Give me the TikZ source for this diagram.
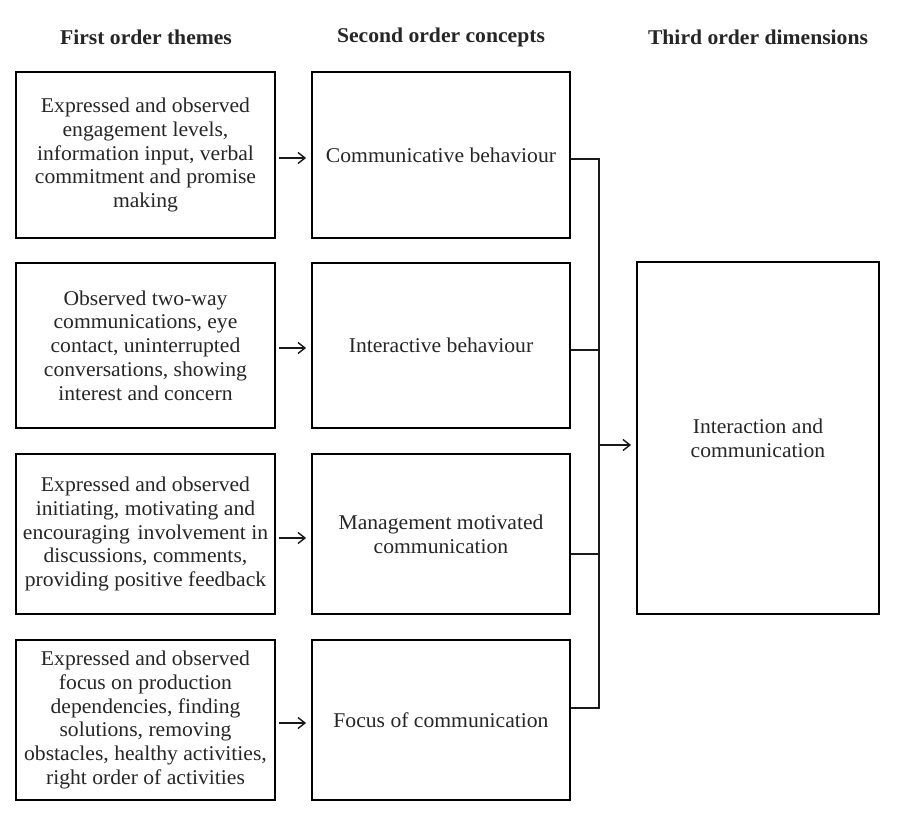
\documentclass[tikz,border=0pt]{standalone}
\usepackage{fontspec}
\setmainfont{Liberation Serif}[FakeStretch=1.03]
\usetikzlibrary{arrows.meta}
\tikzset{
  every node/.style={font=\fontsize{21}{23.8}\selectfont, text=black!85},
  box/.style={draw=black, line width=1.8pt, inner sep=0pt, align=center},
  colhead/.style={font=\fontsize{21}{23.8}\selectfont\bfseries},
  link/.style={line width=1.4pt, draw=black!90},
  arr/.style={link, -{Straight Barb[length=7pt,width=11pt]}},
}
\begin{document}
\begin{tikzpicture}[x=1pt,y=-1pt]
  \useasboundingbox[fill=white] (0,0) rectangle (914,816);

  % column headings
  \node[colhead] (h1) at (146,37) {First order themes};
  \node[colhead] (h2) at (441,37) {Second order concepts};
  \node[colhead] (h3) at (758,37) {Third order dimensions};

  % first order themes
  \node[box, minimum width=259, minimum height=166] (a1) at (145.5,155)
    {Expressed and observed\\engagement levels,\\information input, verbal\\commitment and promise\\making};
  \node[box, minimum width=259, minimum height=165] (a2) at (145.5,345.5)
    {Observed two-way\\communications, eye\\contact, uninterrupted\\conversations, showing\\interest and concern};
  \node[box, minimum width=259, minimum height=160] (a3) at (145.5,534)
    {Expressed and observed\\initiating, motivating and\\encouraging\hspace{2.5pt} involvement in\\discussions, comments,\\providing positive feedback};
  \node[box, minimum width=259, minimum height=160] (a4) at (145.5,720)
    {Expressed and observed\\focus on production\\dependencies, finding\\solutions, removing\\obstacles, healthy activities,\\right order of activities};

  % second order concepts
  \node[box, minimum width=258, minimum height=166] (b1) at (441,155) {Communicative behaviour};
  \node[box, minimum width=258, minimum height=165] (b2) at (441,345.5) {Interactive behaviour};
  \node[box, minimum width=258, minimum height=160] (b3) at (441,534) {Management motivated\\communication};
  \node[box, minimum width=258, minimum height=160] (b4) at (441,720) {Focus of communication};

  % third order dimension
  \node[box, minimum width=242, minimum height=352] (c1) at (758,438) {Interaction and\\communication};

  % theme -> concept arrows
  \foreach \i/\dy in {1/3,2/2.5,3/4,4/3} {
    \draw[arr, shorten <=3pt, shorten >=5pt]
      ([yshift=-\dy pt]a\i.east) -- ([yshift=-\dy pt]b\i.west);
  }

  % bracket joining the concepts
  \coordinate (jtop) at (599,159);
  \coordinate (jbot) at (599,708);
  \draw[link] ([yshift=-4pt]b1.east) -- ([yshift=-4pt]b1.east -| jtop) -- (jbot)
              -- ([yshift=12pt]b4.east -| jtop) -- ([yshift=12pt]b4.east);
  \draw[link] ([yshift=-4.5pt]b2.east) -- ([yshift=-4.5pt]b2.east -| jtop);
  \draw[link] ([yshift=-20pt]b3.east) -- ([yshift=-20pt]b3.east -| jtop);

  % bracket -> dimension arrow
  \draw[arr, shorten >=5pt] ([yshift=-7pt]c1.west -| jtop) -- ([yshift=-7pt]c1.west);
\end{tikzpicture}
\end{document}
